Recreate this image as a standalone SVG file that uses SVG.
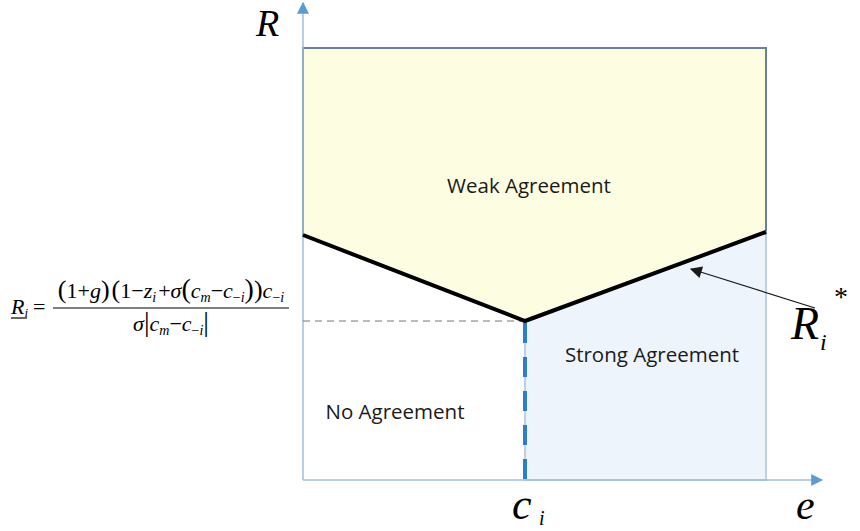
<svg xmlns="http://www.w3.org/2000/svg" width="860" height="531" viewBox="0 0 860 531">
<defs>
<style>
.lbl{font-family:"Open Sans","Liberation Sans",sans-serif;font-size:20.5px;fill:#1a1a1a}
.math{font-family:"Liberation Serif","DejaVu Serif",serif;fill:#000}
.it{font-style:italic}
</style>
<marker id="ax" viewBox="0 0 10 10" refX="9" refY="5" markerWidth="12" markerHeight="12" markerUnits="userSpaceOnUse" orient="auto"><path d="M0,0L10,5L0,10z" fill="#5b9bd5"/></marker>
<marker id="ptr" viewBox="0 0 10 10" refX="9" refY="5" markerWidth="14" markerHeight="12" markerUnits="userSpaceOnUse" orient="auto"><path d="M0,0L10,5L0,10z" fill="#1a1a1a"/></marker>
</defs>
<rect width="860" height="531" fill="#fff"/>
<g id="regions">
<polygon id="weak" points="303,48 766,48 766,232 525,321 303,235" fill="#fdfde2" stroke="#66809f" stroke-width="2"/>
<polygon id="strong" points="525,321 766,232 766,480 525,480" fill="#eef4fc" stroke="#a9c1dc" stroke-width="1.5"/>
</g>
<g id="connectors">
<line x1="303" y1="480" x2="303" y2="3" stroke="#9fbde0" stroke-width="1.5" marker-end="url(#ax)"/>
<line x1="303" y1="480" x2="822" y2="480" stroke="#9fbde0" stroke-width="1.5" marker-end="url(#ax)"/>
<line x1="303" y1="321" x2="525" y2="321" stroke="#777" stroke-width="1.2" stroke-dasharray="7,5"/>
<line x1="525" y1="323" x2="525" y2="480" stroke="#2e7dc8" stroke-width="4" stroke-dasharray="20,14"/>
<polyline points="303,235 525,321 766,232" fill="none" stroke="#000" stroke-width="4"/>
<line x1="815" y1="308" x2="691" y2="269" stroke="#1a1a1a" stroke-width="1.2" marker-end="url(#ptr)"/>
</g>
<g id="labels">
<text class="lbl" x="529" y="193" text-anchor="middle">Weak Agreement</text>
<text class="lbl" x="652" y="362" text-anchor="middle">Strong Agreement</text>
<text class="lbl" x="395" y="419" text-anchor="middle">No Agreement</text>
</g>
<g id="axis-labels" class="math">
<text class="it" x="256" y="36" font-size="38">R</text>
<text class="it" x="512" y="519" font-size="44">c</text>
<text class="it" x="539" y="525" font-size="20">i</text>
<text class="it" x="796" y="519" font-size="42">e</text>
<text class="it" x="791" y="339" font-size="46">R</text>
<text class="it" x="820" y="350" font-size="24">i</text>
<text x="834" y="306" font-size="28">*</text>
</g>
<g id="formula" class="math" font-size="22">
<text x="11" y="314"><tspan class="it">R</tspan><tspan class="it" font-size="13" dy="3">i</tspan><tspan dy="-3" dx="5">=</tspan></text>
<line x1="11" y1="318" x2="27" y2="318" stroke="#000" stroke-width="1.2"/>
<line x1="53" y1="308" x2="289" y2="308" stroke="#000" stroke-width="1.2"/>
<text x="171" y="298" text-anchor="middle"><tspan font-size="26">(</tspan>1+<tspan class="it">g</tspan><tspan font-size="26">)</tspan><tspan font-size="26" dx="2">(</tspan>1−<tspan class="it">z</tspan><tspan class="it" font-size="14" dy="4">i</tspan><tspan dy="-4" dx="2">+</tspan><tspan class="it">σ</tspan><tspan font-size="28">(</tspan><tspan class="it">c</tspan><tspan class="it" font-size="14" dy="4">m</tspan><tspan dy="-4">−</tspan><tspan class="it">c</tspan><tspan font-size="14" dy="4">−<tspan class="it">i</tspan></tspan><tspan font-size="28" dy="-4">)</tspan><tspan font-size="26">)</tspan><tspan class="it">c</tspan><tspan font-size="14" dy="4">−<tspan class="it">i</tspan></tspan></text>
<text x="171" y="331" text-anchor="middle"><tspan class="it">σ</tspan><tspan font-size="28">|</tspan><tspan class="it">c</tspan><tspan class="it" font-size="14" dy="4">m</tspan><tspan dy="-4">−</tspan><tspan class="it">c</tspan><tspan font-size="14" dy="4">−<tspan class="it">i</tspan></tspan><tspan font-size="28" dy="-4">|</tspan></text>
</g>
</svg>
